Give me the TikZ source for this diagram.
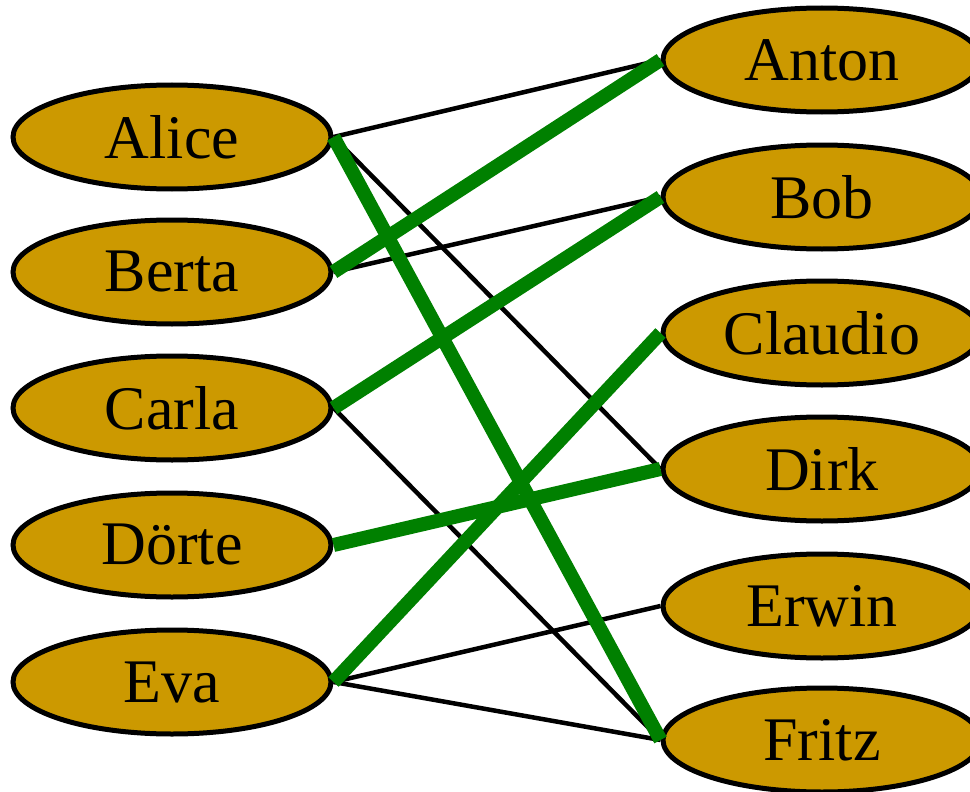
\documentclass[tikz,border=0pt]{standalone}
\usepackage{fontspec}
\setmainfont{Liberation Serif}
\newfontfamily\personfont{Liberation Serif}
\usetikzlibrary{shapes.geometric}
\definecolor{gold}{HTML}{CC9900}
\definecolor{grn}{HTML}{008000}
\begin{document}
\begin{tikzpicture}[x=1pt,y=1pt,
  person/.style={ellipse,draw=black,line width=5pt,fill=gold,minimum width=318pt,minimum height=104pt,inner sep=0pt,font=\personfont\fontsize{62}{70}\selectfont},
  thinedge/.style={draw=black,line width=4.5pt},
  matchedge/.style={draw=grn,line width=14pt}]
\useasboundingbox (0,0) rectangle (970,-792);
\node[person] (alice) at (172,-137) {Alice};
\node[person] (berta) at (172,-272) {Berta};
\node[person] (carla) at (172,-408) {Carla};
\node[person] (doerte) at (172,-545) {Dörte};
\node[person] (eva) at (172,-682) {Eva};
\node[person] (anton) at (822,-60) {Anton};
\node[person] (bob) at (822,-197) {Bob};
\node[person] (claudio) at (822,-333) {Claudio};
\node[person] (dirk) at (822,-469) {Dirk};
\node[person] (erwin) at (822,-606) {Erwin};
\node[person] (fritz) at (822,-740) {Fritz};
\draw[thinedge] (alice.east) -- (anton.west);
\draw[thinedge] (alice.east) -- (dirk.west);
\draw[thinedge] (berta.east) -- (bob.west);
\draw[thinedge] (carla.east) -- (fritz.west);
\draw[thinedge] (eva.east) -- (erwin.west);
\draw[thinedge] (eva.east) -- (fritz.west);
\draw[matchedge] (alice.east) -- (fritz.west);
\draw[matchedge] (berta.east) -- (anton.west);
\draw[matchedge] (carla.east) -- (bob.west);
\draw[matchedge] (doerte.east) -- (dirk.west);
\draw[matchedge] (eva.east) -- (claudio.west);
\end{tikzpicture}
\end{document}
